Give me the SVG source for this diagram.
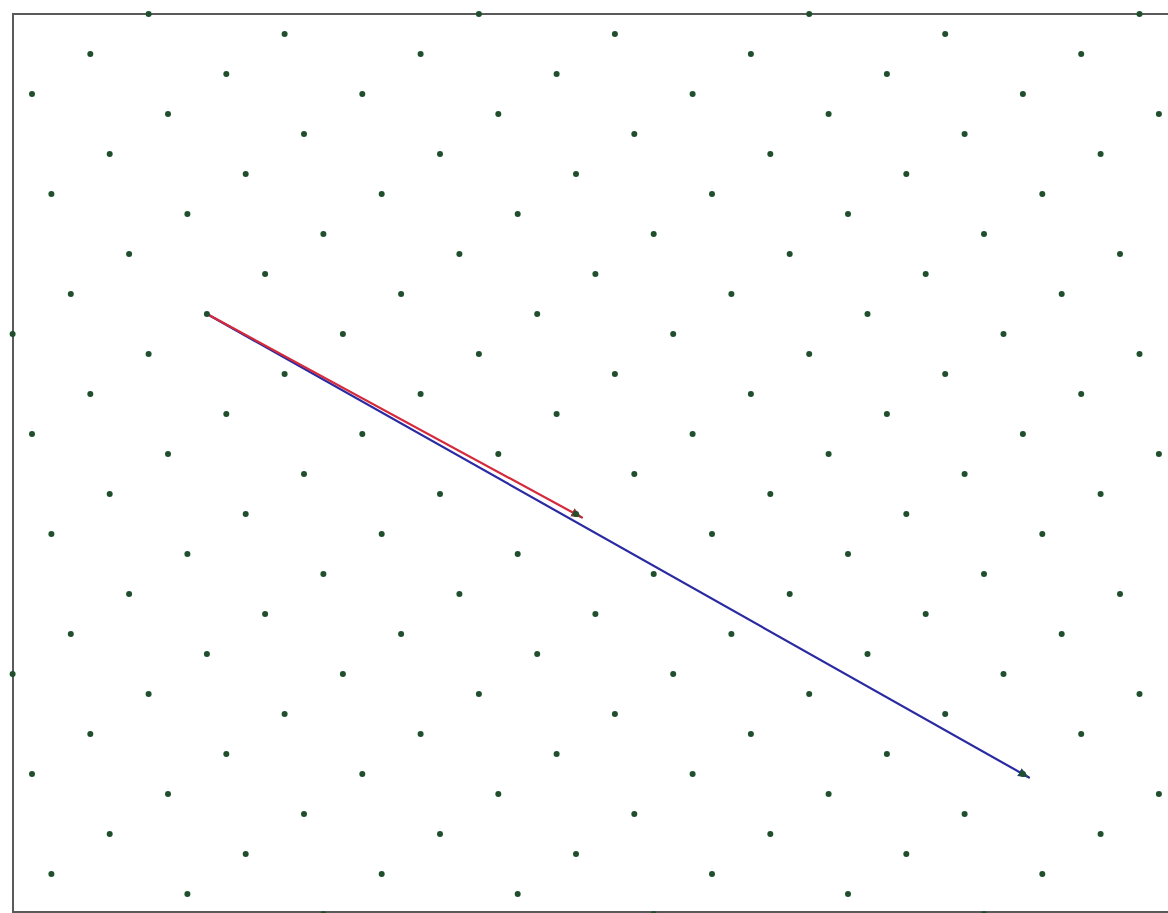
<svg xmlns="http://www.w3.org/2000/svg" xmlns:xlink="http://www.w3.org/1999/xlink" width="1168" height="913" viewBox="0 0 1168 913">
  <style>
    .frame { fill: none; stroke: #5a5a5a; stroke-width: 2; }
    .dot { fill: #1f4f2c; }
    .vec { fill: none; stroke-width: 2.2; stroke-linecap: round; }
    .red { stroke: #d42a3c; }
    .blue { stroke: #2a2aa2; }
  </style>
  <defs>
    <marker id="headRed" markerUnits="userSpaceOnUse" markerWidth="13" markerHeight="10" refX="11" refY="4.5" orient="auto">
      <path d="M0,0 L11,4.5 L0,9 z" fill="#8a3a34"/>
    </marker>
    <marker id="headBlue" markerUnits="userSpaceOnUse" markerWidth="13" markerHeight="10" refX="11" refY="4.5" orient="auto">
      <path d="M0,0 L11,4.5 L0,9 z" fill="#20466a"/>
    </marker>
    <g id="block" class="dot">
      <circle cx="148.6" cy="14" r="3"/><circle cx="478.9" cy="14" r="3"/><circle cx="809.2" cy="14" r="3"/><circle cx="1139.5" cy="14" r="3"/>
      <circle cx="284.6" cy="34" r="3"/><circle cx="614.9" cy="34" r="3"/><circle cx="945.2" cy="34" r="3"/>
      <circle cx="90.3" cy="54" r="3"/><circle cx="420.6" cy="54" r="3"/><circle cx="750.9" cy="54" r="3"/><circle cx="1081.2" cy="54" r="3"/>
      <circle cx="226.3" cy="74" r="3"/><circle cx="556.6" cy="74" r="3"/><circle cx="886.9" cy="74" r="3"/>
      <circle cx="32" cy="94" r="3"/><circle cx="362.3" cy="94" r="3"/><circle cx="692.6" cy="94" r="3"/><circle cx="1022.9" cy="94" r="3"/>
      <circle cx="168" cy="114" r="3"/><circle cx="498.3" cy="114" r="3"/><circle cx="828.6" cy="114" r="3"/><circle cx="1158.9" cy="114" r="3"/>
      <circle cx="304" cy="134" r="3"/><circle cx="634.3" cy="134" r="3"/><circle cx="964.6" cy="134" r="3"/>
      <circle cx="109.7" cy="154" r="3"/><circle cx="440" cy="154" r="3"/><circle cx="770.3" cy="154" r="3"/><circle cx="1100.6" cy="154" r="3"/>
      <circle cx="245.7" cy="174" r="3"/><circle cx="576" cy="174" r="3"/><circle cx="906.3" cy="174" r="3"/>
      <circle cx="51.4" cy="194" r="3"/><circle cx="381.7" cy="194" r="3"/><circle cx="712" cy="194" r="3"/><circle cx="1042.3" cy="194" r="3"/>
      <circle cx="187.4" cy="214" r="3"/><circle cx="517.7" cy="214" r="3"/><circle cx="848" cy="214" r="3"/>
      <circle cx="323.4" cy="234" r="3"/><circle cx="653.7" cy="234" r="3"/><circle cx="984" cy="234" r="3"/>
      <circle cx="129.1" cy="254" r="3"/><circle cx="459.4" cy="254" r="3"/><circle cx="789.7" cy="254" r="3"/><circle cx="1120" cy="254" r="3"/>
      <circle cx="265.1" cy="274" r="3"/><circle cx="595.4" cy="274" r="3"/><circle cx="925.7" cy="274" r="3"/>
      <circle cx="70.8" cy="294" r="3"/><circle cx="401.1" cy="294" r="3"/><circle cx="731.4" cy="294" r="3"/><circle cx="1061.7" cy="294" r="3"/>
      <circle cx="206.9" cy="314" r="3"/><circle cx="537.2" cy="314" r="3"/><circle cx="867.5" cy="314" r="3"/>
      <circle cx="12.6" cy="334" r="3"/><circle cx="342.9" cy="334" r="3"/><circle cx="673.2" cy="334" r="3"/><circle cx="1003.5" cy="334" r="3"/>
    </g>
  </defs>
  <rect width="1168" height="913" fill="#ffffff"/>
  <rect class="frame" x="13" y="14" width="1170" height="898"/>
  <g id="connectors">
    <line class="vec blue" x1="207" y1="314" x2="1029" y2="777.5" marker-end="url(#headBlue)"/>
    <line class="vec red" x1="207" y1="314" x2="582" y2="517.5" marker-end="url(#headRed)"/>
  </g>
  <g id="lattice">
    <use href="#block" xlink:href="#block"/>
    <use href="#block" xlink:href="#block" y="340"/>
    <use href="#block" xlink:href="#block" y="680"/>
  </g>
</svg>
